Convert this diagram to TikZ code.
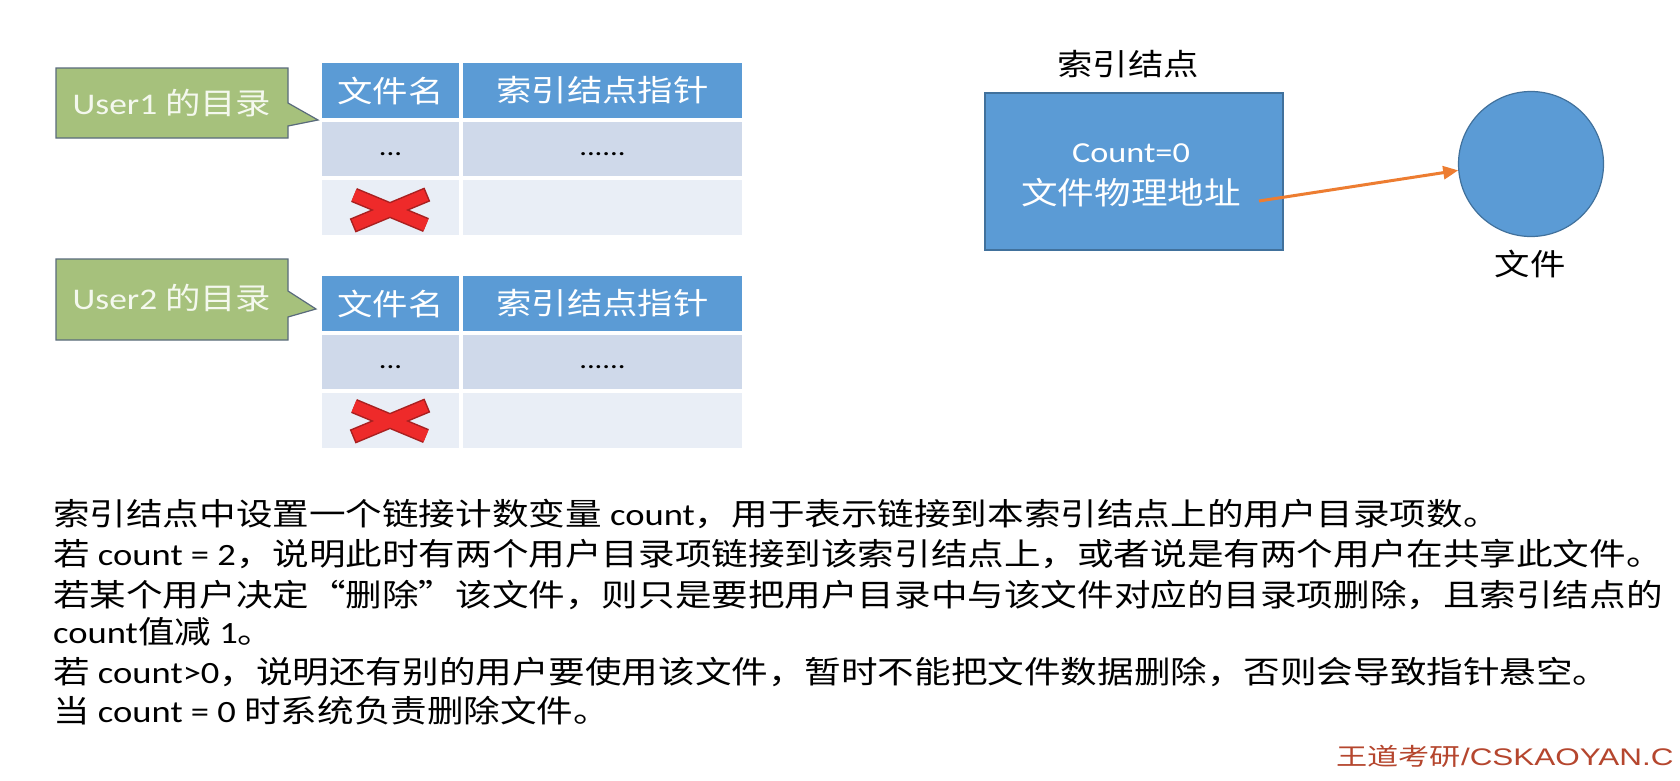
\documentclass[tikz,border=0pt]{standalone}
\usepackage{fontspec}
\setmainfont[FakeStretch=1.18]{Noto Sans CJK SC}
\newfontfamily\latfont[FakeStretch=1.18]{Carlito}
\newfontfamily\markfont[FakeStretch=1.31]{Liberation Sans}
\newfontfamily\markcjk[FakeStretch=1.3]{Noto Sans CJK SC}
\usetikzlibrary{arrows.meta}
\newcommand\lt[1]{{\latfont #1}}
\newcommand\fsz[1]{\fontsize{#1}{#1}\selectfont}

\definecolor{hdrblue}{HTML}{5B9BD5}
\definecolor{bandA}{HTML}{CFD9EA}
\definecolor{bandB}{HTML}{E9EEF6}
\definecolor{calgreen}{HTML}{A6C17C}
\definecolor{calline}{HTML}{5A6B7C}
\definecolor{caltext}{HTML}{F4F8EE}
\definecolor{nodeline}{HTML}{41719C}
\definecolor{ptrorange}{HTML}{ED7D31}
\definecolor{xred}{HTML}{EE2A2A}
\definecolor{xdark}{HTML}{A82020}
\definecolor{markred}{HTML}{B5462E}

\tikzset{
  cell/.style={anchor=north west, inner sep=0pt, outer sep=0pt},
  hdrcell/.style={cell, fill=hdrblue, text=white, font=\fsz{30}, minimum height=55pt},
  bandAcell/.style={cell, fill=bandA, minimum height=54pt},
  bandBcell/.style={cell, fill=bandB, minimum height=55pt},
  narrowcol/.style={minimum width=137pt},
  widecol/.style={minimum width=279pt},
  dots/.style={inner sep=0pt, font=\fsz{26}},
  callout/.style={fill=calgreen, draw=calline, line width=1.2pt, line join=miter},
  caltxt/.style={inner sep=0pt, text=caltext, font=\fsz{30}},
  xouter/.style={draw=xdark, line width=15pt, shorten <=-1.5pt, shorten >=-1.5pt},
  xinner/.style={draw=xred, line width=12pt},
  inodebox/.style={cell, fill=hdrblue, draw=nodeline, line width=1.2pt,
    minimum width=298pt, minimum height=157pt},
  inodetxt/.style={inner sep=0pt, text=white},
  filenode/.style={circle, fill=hdrblue, draw=nodeline, line width=1.2pt,
    minimum size=145pt, inner sep=0pt},
  plainlbl/.style={inner sep=0pt, font=\fsz{30}},
  ptrarrow/.style={draw=ptrorange, line width=3pt,
    -{Triangle[length=15pt,width=13pt]}},
  textline/.style={anchor=west, inner sep=0pt, font=\fsz{31}},
}

% red cross drawn over a directory entry
\newcommand\crossmark[1]{%
  \begin{scope}[shift={#1}]
    \draw[xouter] (-36,-15) -- (36,15) (-36,15) -- (36,-15);
    \draw[xinner] (-36,-15) -- (36,15) (-36,15) -- (36,-15);
  \end{scope}}

\begin{document}
\begin{tikzpicture}[x=1pt, y=-1pt]
\clip (0,0) rectangle (1680,780);
\fill[white] (0,0) rectangle (1680,780);

% ---- User1 directory ----
\path[callout] (56,68) -- (288,68) -- (288,103) -- (318,120) -- (288,126)
  -- (288,138) -- (56,138) -- cycle;
\node[caltxt] (c1) at (172,103) {\lt{User1} 的目录};

\node[hdrcell, narrowcol] (t1h1) at (322,63) {文件名};
\node[hdrcell, widecol] (t1h2) at (463,63) {索引结点指针};
\node[bandAcell, narrowcol] (t1r1) at (322,122) {};
\node[bandAcell, widecol] (t1r2) at (463,122) {};
\node[bandBcell, narrowcol] (t1s1) at (322,180) {};
\node[bandBcell, widecol] (t1s2) at (463,180) {};
\node[dots] (t1d1) at ([yshift=-5pt]t1r1.center) {\lt{...}};
\node[dots] (t1d2) at ([yshift=-5pt]t1r2.center) {\lt{......}};
\crossmark{(390,210)}

% ---- User2 directory ----
\path[callout] (56,259) -- (288,259) -- (288,291) -- (316,309) -- (288,317)
  -- (288,340) -- (56,340) -- cycle;
\node[caltxt] (c2) at (172,298) {\lt{User2} 的目录};

\node[hdrcell, narrowcol] (t2h1) at (322,276) {文件名};
\node[hdrcell, widecol] (t2h2) at (463,276) {索引结点指针};
\node[bandAcell, narrowcol] (t2r1) at (322,335) {};
\node[bandAcell, widecol] (t2r2) at (463,335) {};
\node[bandBcell, narrowcol] (t2s1) at (322,393) {};
\node[bandBcell, widecol] (t2s2) at (463,393) {};
\node[dots] (t2d1) at ([yshift=-5pt]t2r1.center) {\lt{...}};
\node[dots] (t2d2) at ([yshift=-5pt]t2r2.center) {\lt{......}};
\crossmark{(390,421)}

% ---- index node and file ----
\node[plainlbl] (ilbl) at (1128,64) {索引结点};
\node[inodebox] (inode) at (985,93) {};
\node[inodetxt, font=\fsz{29}] (cnt) at (1131,153) {\lt{Count=0}};
\node[inodetxt, font=\fsz{31}] (addr) at (1131,193) {文件物理地址};

\node[filenode] (file) at (1531,164) {};
\node[plainlbl] (flbl) at (1530,264) {文件};

\coordinate (ptr) at (1259,201);
\draw[ptrarrow] (ptr) -- (file.185);

% ---- explanation ----
\node[textline] (l1) at (53,514) {索引结点中设置一个链接计数变量 \lt{count}，用于表示链接到本索引结点上的用户目录项数。};
\node[textline] (l2) at (53,554) {若 \lt{count = 2}，说明此时有两个用户目录项链接到该索引结点上，或者说是有两个用户在共享此文件。};
\node[textline] (l3) at (53,595) {若某个用户决定“删除”该文件，则只是要把用户目录中与该文件对应的目录项删除，且索引结点的};
\node[textline] (l4) at (53,632) {\lt{count}值减 \lt{1}。};
\node[textline] (l5) at (53,672) {若 \lt{count>0}，说明还有别的用户要使用该文件，暂时不能把文件数据删除，否则会导致指针悬空。};
\node[textline] (l6) at (53,711) {当 \lt{count = 0} 时系统负责删除文件。};

\node[anchor=west, inner sep=0pt, text=markred, font=\fsz{24}] (mark) at (1336,756)
  {\markcjk 王道考研\markfont /CSKAOYAN.C};
\end{tikzpicture}
\end{document}
